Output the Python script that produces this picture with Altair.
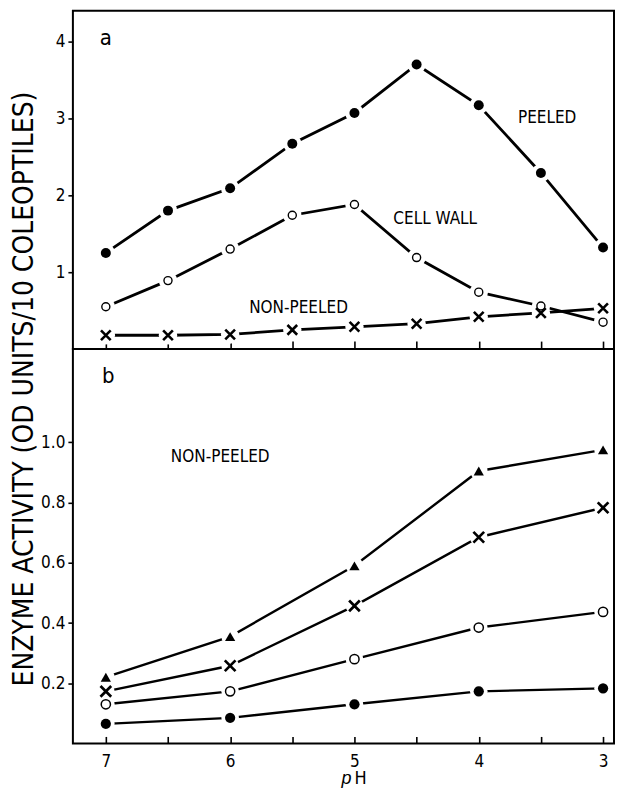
import altair as alt
import pandas as pd

# ---------------- data ----------------
ph_a = [7, 6.5, 6, 5.5, 5, 4.5, 4, 3.5, 3]
peeled = [1.25, 1.80, 2.09, 2.67, 3.07, 3.70, 3.17, 2.29, 1.32]
cell_wall = [0.55, 0.89, 1.30, 1.74, 1.88, 1.19, 0.74, 0.56, 0.35]
non_peeled_a = [0.18, 0.18, 0.19, 0.25, 0.29, 0.33, 0.42, 0.47, 0.53]

ph_b = [7, 6, 5, 4, 3]
b_triangle = [0.22, 0.355, 0.59, 0.905, 0.975]
b_cross = [0.173, 0.258, 0.457, 0.685, 0.783]
b_open = [0.13, 0.173, 0.28, 0.385, 0.437]
b_filled = [0.065, 0.085, 0.13, 0.173, 0.183]

x_ticks = [7, 6.5, 6, 5.5, 5, 4.5, 4, 3.5, 3]
x_labels = [7, 6, 5, 4, 3]
ya_ticks = [1, 2, 3, 4]
yb_ticks = [0.2, 0.4, 0.6, 0.8, 1.0]

labels_a = pd.DataFrame({
    "text": ["a", "PEELED", "CELL WALL", "NON-PEELED"],
    "ph": [7.0, 3.45, 4.35, 5.45],
    "v": [4.04, 3.01, 1.69, 0.53],
    "fs": [22, 17, 17, 17],
})
labels_b = pd.DataFrame({
    "text": ["b", "NON-PEELED"],
    "ph": [6.98, 6.08],
    "v": [1.22, 0.95],
    "fs": [22, 17],
})

FONT = "DejaVu Sans Condensed, Liberation Sans Narrow, Roboto Condensed, Liberation Sans, sans-serif"
X_PATH = "M-1,-1L1,1M-1,1L1,-1"

W = 542
HA = 339
HB = 395
XDOM = [2.912, 7.265]

df_a = pd.DataFrame({
    "ph": ph_a * 3,
    "v": peeled + cell_wall + non_peeled_a,
    "s": ["peeled"] * 9 + ["wall"] * 9 + ["non"] * 9,
})
df_b = pd.DataFrame({
    "ph": ph_b * 4,
    "v": b_triangle + b_cross + b_open + b_filled,
    "s": ["tri"] * 5 + ["cross"] * 5 + ["open"] * 5 + ["filled"] * 5,
})

xscale = alt.Scale(domain=XDOM, reverse=True, nice=False, zero=False)

# ---------- panel a ----------
ysa = alt.Scale(domain=[0, 4.4], nice=False)
ya = alt.Y("v:Q", scale=ysa,
           axis=alt.Axis(values=ya_ticks, title=None, domain=False, grid=False,
                         tickSize=5, labelPadding=3, labelFontSize=17))
ya_noaxis = alt.Y("v:Q", scale=ysa, axis=None)
xa_axis = alt.X("ph:Q", scale=xscale,
                axis=alt.Axis(orient="top", offset=-HA, values=x_ticks, labels=False,
                              domain=False, grid=False, tickSize=8, title=None))
xa = alt.X("ph:Q", scale=xscale, axis=None)

base_a = alt.Chart(df_a)
lines_a = base_a.mark_line(color="black", strokeWidth=2.8).encode(
    x=xa_axis, y=ya, detail="s:N")
halo_a = base_a.mark_point(shape="circle", filled=True, color="white", opacity=1,
                           size=340).encode(x=xa, y=ya_noaxis)
pa_filled = alt.Chart(df_a[df_a.s == "peeled"]).mark_point(
    shape="circle", filled=True, color="black", opacity=1, size=100).encode(x=xa, y=ya_noaxis)
pa_open = alt.Chart(df_a[df_a.s == "wall"]).mark_point(
    shape="circle", filled=False, color="black", fill="white", opacity=1,
    strokeWidth=1.4, size=65).encode(x=xa, y=ya_noaxis)
pa_cross = alt.Chart(df_a[df_a.s == "non"]).mark_point(
    shape=X_PATH, filled=False, color="black", opacity=1,
    strokeWidth=2.6, size=95).encode(x=xa, y=ya_noaxis)
text_a = alt.Chart(labels_a).mark_text(font=FONT, color="black").encode(
    x=xa, y=ya_noaxis, text="text:N",
    size=alt.Size("fs:Q", scale=None, legend=None))

panel_a = alt.layer(lines_a, halo_a, pa_open, pa_cross, pa_filled, text_a).resolve_axis(
    x="independent", y="independent").properties(width=W, height=HA)

# ---------- panel b ----------
ysb = alt.Scale(domain=[0, 1.31], nice=False)
yb = alt.Y("v:Q", scale=ysb,
           axis=alt.Axis(values=yb_ticks, format=".1f", title=None, domain=False,
                         grid=False, tickSize=5, labelPadding=3, labelFontSize=17))
yb_noaxis = alt.Y("v:Q", scale=ysb, axis=None)
xb_labels = alt.X("ph:Q", scale=xscale,
                  axis=alt.Axis(orient="bottom", values=x_labels, format="d", ticks=False,
                                domain=False, grid=False, labelPadding=10,
                                labelFontSize=17, title=None))
xb_ticks = alt.X("ph:Q", scale=xscale,
                 axis=alt.Axis(orient="top", offset=-HB, values=x_ticks, labels=False,
                               domain=False, grid=False, tickSize=7, title=None))
xb = alt.X("ph:Q", scale=xscale, axis=None)

base_b = alt.Chart(df_b)
lines_b = base_b.mark_line(color="black", strokeWidth=2.4).encode(
    x=xb_labels, y=yb, detail="s:N")
halo_b = base_b.mark_point(shape="circle", filled=True, color="white", opacity=1,
                           size=310).encode(x=xb_ticks, y=yb_noaxis)
pb_tri = alt.Chart(df_b[df_b.s == "tri"]).mark_point(
    shape="triangle-up", filled=True, color="black", opacity=1, size=105).encode(
    x=xb, y=yb_noaxis)
pb_cross = alt.Chart(df_b[df_b.s == "cross"]).mark_point(
    shape=X_PATH, filled=False, color="black", opacity=1,
    strokeWidth=2.7, size=115).encode(x=xb, y=yb_noaxis)
pb_open = alt.Chart(df_b[df_b.s == "open"]).mark_point(
    shape="circle", filled=False, color="black", fill="white", opacity=1,
    strokeWidth=1.5, size=85).encode(x=xb, y=yb_noaxis)
pb_filled = alt.Chart(df_b[df_b.s == "filled"]).mark_point(
    shape="circle", filled=True, color="black", opacity=1, size=105).encode(
    x=xb, y=yb_noaxis)
text_b = alt.Chart(labels_b).mark_text(font=FONT, color="black").encode(
    x=xb, y=yb_noaxis, text="text:N",
    size=alt.Size("fs:Q", scale=None, legend=None))

title_df = pd.DataFrame({"t": ["ENZYME ACTIVITY (OD UNITS/10 COLEOPTILES)"],
                         "p": ["p"], "h": ["H"]})
ytitle = alt.Chart(title_df).mark_text(font=FONT, fontSize=28, angle=270,
                                       baseline="middle", color="black").encode(
    x=alt.value(-48), y=alt.value(40), text="t:N")
xtitle_p = alt.Chart(title_df).mark_text(font="Liberation Sans, sans-serif", fontSize=18,
                                         fontStyle="italic", color="black", align="right",
                                         baseline="alphabetic").encode(
    x=alt.value(279), y=alt.value(HB + 41), text="p:N")
xtitle_h = alt.Chart(title_df).mark_text(font=FONT, fontSize=18, color="black",
                                         align="left", baseline="alphabetic").encode(
    x=alt.value(282), y=alt.value(HB + 41), text="h:N")

panel_b = alt.layer(lines_b, halo_b, pb_open, pb_cross, pb_filled, pb_tri, text_b,
                    ytitle, xtitle_p, xtitle_h).resolve_axis(
    x="independent", y="independent").properties(width=W, height=HB)

chart = alt.vconcat(panel_a, panel_b, spacing=0, bounds="flush").properties(
    padding={"left": 1, "top": 1, "right": 0, "bottom": 0}
).configure_view(stroke="black", strokeWidth=2).configure_axis(
    labelFont=FONT, labelColor="black", tickColor="black", tickWidth=1.6
)

chart.save("out.html", embed_options={"renderer": "svg", "actions": False})
